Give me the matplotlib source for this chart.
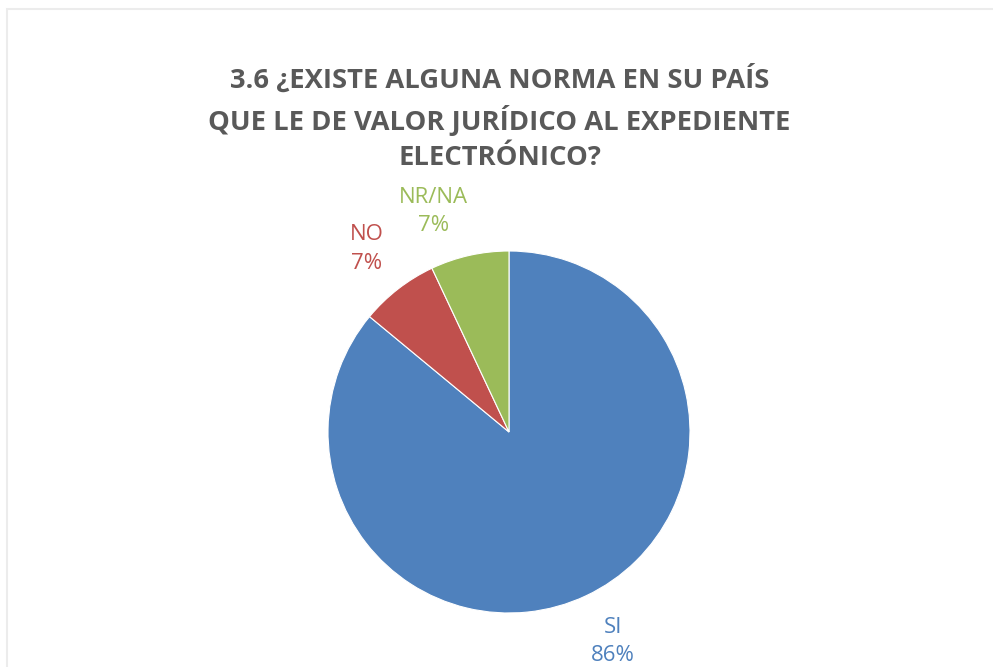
import matplotlib
matplotlib.use("Agg")
import matplotlib.pyplot as plt
import numpy as np
from matplotlib.patches import Rectangle

categories = ["SI", "NO", "NR/NA"]
values = [86, 7, 7]
colors = ["#4F81BD", "#C0504D", "#9BBB59"]
title = "3.6 ¿EXISTE ALGUNA NORMA EN SU PAÍS\nQUE LE DE VALOR JURÍDICO AL EXPEDIENTE\nELECTRÓNICO?"

W, H = 993, 667
fig = plt.figure(figsize=(W / 100, H / 100), dpi=100)
fig.patch.set_facecolor("white")

# faint outer frame
fig.patches.append(Rectangle((7 / W, -0.01), 1.0, 1.0 - 9 / H + 0.01, transform=fig.transFigure,
                             fill=False, edgecolor="#ececec", linewidth=1.5))

cx, cy, r = 509, H - 432, 181
ax = fig.add_axes([(cx - r) / W, (cy - r) / H, 2 * r / W, 2 * r / H])

wedges, _ = ax.pie(values, colors=colors, startangle=90, counterclock=False, radius=1.0,
                   wedgeprops=dict(linewidth=0.8, edgecolor="white"))
ax.set_xlim(-1, 1)
ax.set_ylim(-1, 1)
ax.set_aspect("equal")
ax.axis("off")

# label offsets (Excel-style label placement; NR/NA nudged to avoid overlap)
offsets = [(0.03, 0.0), (0.0, 0.0), (-0.14, -0.03)]
for w, c, v, col, (ox, oy) in zip(wedges, categories, values, colors, offsets):
    th = np.deg2rad((w.theta1 + w.theta2) / 2)
    x = 1.28 * np.cos(th) + ox
    y = 1.28 * np.sin(th) + oy
    ax.text(x, y, f"{c}\n{v}%", ha="center", va="center", fontsize=16,
            family="Open Sans", color=col, linespacing=1.45, clip_on=False)

fig.text(0.503, 1 - 118 / H, title, ha="center", va="center", fontsize=19.7,
         fontweight="bold", family="Open Sans", color="#595959", linespacing=1.45)

fig.savefig("out.png", dpi=100, facecolor="white")
